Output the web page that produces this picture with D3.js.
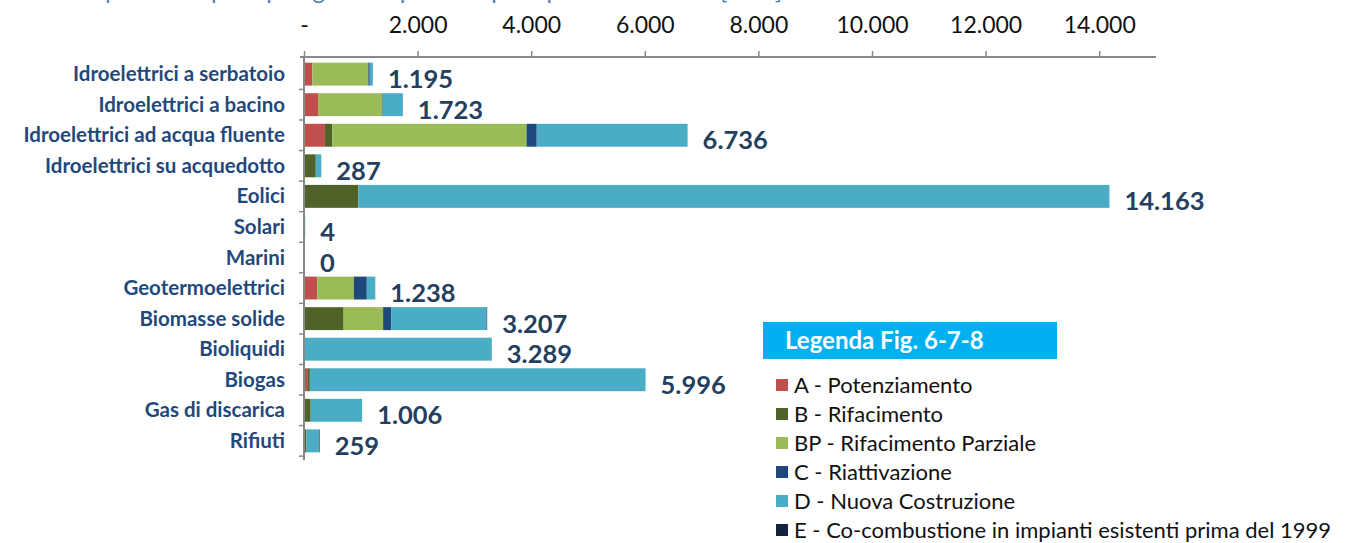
<!DOCTYPE html>
<html>
<head>
<meta charset="utf-8">
<script src="https://cdn.jsdelivr.net/npm/d3@7"></script>
<style>
	body { margin: 0; background: #fff; }
	svg { display: block; }
</style>
</head>
<body>
<div id="chart"></div>
<script>
// categories (top to bottom)
var categories = [
	"Idroelettrici a serbatoio",
	"Idroelettrici a bacino",
	"Idroelettrici ad acqua fluente",
	"Idroelettrici su acquedotto",
	"Eolici",
	"Solari",
	"Marini",
	"Geotermoelettrici",
	"Biomasse solide",
	"Bioliquidi",
	"Biogas",
	"Gas di discarica",
	"Rifiuti"
];

// MW per intervention type
var potenziamento   = [130, 230, 350,   0,     0, 0, 0, 215,    0,    0,   40,   0,   0];
var rifacimento     = [  0,   0, 130, 190,   940, 0, 0,   0,  680,    0,   45, 100,  25];
var rifParziale     = [985,1130,3420,   0,     0, 0, 0, 645,  695,    0,    0,   0,   0];
var riattivazione   = [ 25,  10, 180,   0,     0, 0, 0, 228,  142,    0,    0,   0,   0];
var nuovaCostr      = [ 55, 353,2656,  97, 13223, 4, 0, 150, 1680, 3289, 5911, 906, 224];
var coCombustione   = [  0,   0,   0,   0,     0, 0, 0,   0,   10,    0,    0,   0,  10];

var totals = [1195, 1723, 6736, 287, 14163, 4, 0, 1238, 3207, 3289, 5996, 1006, 259];

var seriesNames = [
	"A - Potenziamento",
	"B - Rifacimento",
	"BP - Rifacimento Parziale",
	"C - Riattivazione",
	"D - Nuova Costruzione",
	"E - Co-combustione in impianti esistenti prima del 1999"
];
var seriesColors = ["#c0504d", "#4f6228", "#9bbb59", "#1f497d", "#4bacc6", "#10243e"];
var xTicks = [0, 2000, 4000, 6000, 8000, 10000, 12000, 14000];

var width = 1346, height = 543;
var margin = {left: 304, top: 59};

var svg = d3.select("#chart").append("svg")
	.attr("width", width)
	.attr("height", height);

// title, mostly cut off by the top edge as in the source
svg.append("text")
	.attr("x", -20)
	.attr("y", -1)
	.attr("fill", "#4f81bd")
	.attr("font-family", "Lato, sans-serif")
	.attr("font-size", 24)
	.text("6) Potenza qualificata per tipologia di impianto e per tipo di intervento [MW]");

var x = d3.scaleLinear().domain([0, 15000]).range([margin.left, 1156]);
var y = d3.scaleBand().domain(categories).range([margin.top, 456]).paddingInner(0.25).paddingOuter(0.12);

var table = categories.map(function(c, i){
	return {
		cat: c,
		A: potenziamento[i], B: rifacimento[i], BP: rifParziale[i],
		C: riattivazione[i], D: nuovaCostr[i], E: coCombustione[i],
		total: totals[i]
	};
});
var keys = ["A", "B", "BP", "C", "D", "E"];
var stacked = d3.stack().keys(keys)(table);

// bars
svg.append("g").selectAll("g")
	.data(stacked)
	.join("g")
		.attr("fill", function(d, i){ return seriesColors[i]; })
	.selectAll("rect")
	.data(function(d){ return d; })
	.join("rect")
		.attr("x", function(d){ return x(d[0]) + 1; })
		.attr("y", function(d){ return y(d.data.cat); })
		.attr("width", function(d){ return Math.max(0, x(d[1]) - x(d[0])); })
		.attr("height", y.bandwidth());

// top axis
var fmt = d3.format(",.0f");
var itFmt = function(v){ return v === 0 ? "-" : fmt(v).replace(/,/g, "."); };
var xAxis = svg.append("g")
	.attr("transform", "translate(0," + 57 + ")")
	.call(d3.axisTop(x).tickValues(xTicks).tickFormat(itFmt).tickSize(6).tickPadding(18));
xAxis.select(".domain").attr("stroke", "#888").attr("stroke-width", 2)
	.attr("d", "M300,0H1156");
xAxis.selectAll(".tick line").attr("stroke", "#888").attr("stroke-width", 1.5);
xAxis.selectAll("text")
	.attr("font-family", "Lato, sans-serif")
	.attr("font-size", 23)
	.attr("fill", "#111");

// left axis
var stepY = y.step();
var yAxis = svg.append("g").attr("transform", "translate(" + margin.left + ",0)");
yAxis.append("line")
	.attr("x1", 0).attr("x2", 0)
	.attr("y1", 57).attr("y2", y(categories[categories.length - 1]) + y.bandwidth() + 8)
	.attr("stroke", "#888").attr("stroke-width", 2);
yAxis.selectAll(".tk")
	.data(categories)
	.join("line")
		.attr("class", "tk")
		.attr("x1", -5).attr("x2", 0)
		.attr("y1", function(d){ return y(d) + y.bandwidth() + (stepY - y.bandwidth()) / 2; })
		.attr("y2", function(d){ return y(d) + y.bandwidth() + (stepY - y.bandwidth()) / 2; })
		.attr("stroke", "#888").attr("stroke-width", 1.5);

svg.append("g").selectAll("text")
	.data(categories)
	.join("text")
		.attr("x", 285)
		.attr("y", function(d){ return y(d) + y.bandwidth() / 2 + 7; })
		.attr("text-anchor", "end")
		.attr("font-family", "Lato, sans-serif")
		.attr("font-weight", "bold")
		.attr("font-size", 20.5)
		.attr("fill", "#1f497d")
		.text(function(d){ return d; });

// totals
svg.append("g").selectAll("text")
	.data(table)
	.join("text")
		.attr("x", function(d){ return x(d.total) + 16; })
		.attr("y", function(d){ return y(d.cat) + y.bandwidth() / 2 + 14; })
		.attr("font-family", "Lato, sans-serif")
		.attr("font-weight", "bold")
		.attr("font-size", 25.5)
		.attr("fill", "#243f60")
		.text(function(d){ return itFmt(d.total) === "-" ? "0" : itFmt(d.total); });

// legend
var legend = svg.append("g");
legend.append("rect")
	.attr("x", 763).attr("y", 322)
	.attr("width", 294).attr("height", 37)
	.attr("fill", "#00b0f0");
legend.append("text")
	.attr("x", 785).attr("y", 349)
	.attr("font-family", "Lato, sans-serif")
	.attr("font-weight", "bold")
	.attr("font-size", 24)
	.attr("fill", "#fff")
	.text("Legenda Fig. 6-7-8");

var items = legend.selectAll(".item")
	.data(seriesNames)
	.join("g")
		.attr("class", "item")
		.attr("transform", function(d, i){ return "translate(776," + (385 + i * 29) + ")"; });
items.append("rect")
	.attr("x", 0).attr("y", -6)
	.attr("width", 12).attr("height", 12)
	.attr("fill", function(d, i){ return seriesColors[i]; });
items.append("text")
	.attr("x", 18).attr("y", 8)
	.attr("font-family", "Lato, sans-serif")
	.attr("font-size", 22)
	.attr("fill", "#111")
	.text(function(d){ return d; });
</script>
</body>
</html>
